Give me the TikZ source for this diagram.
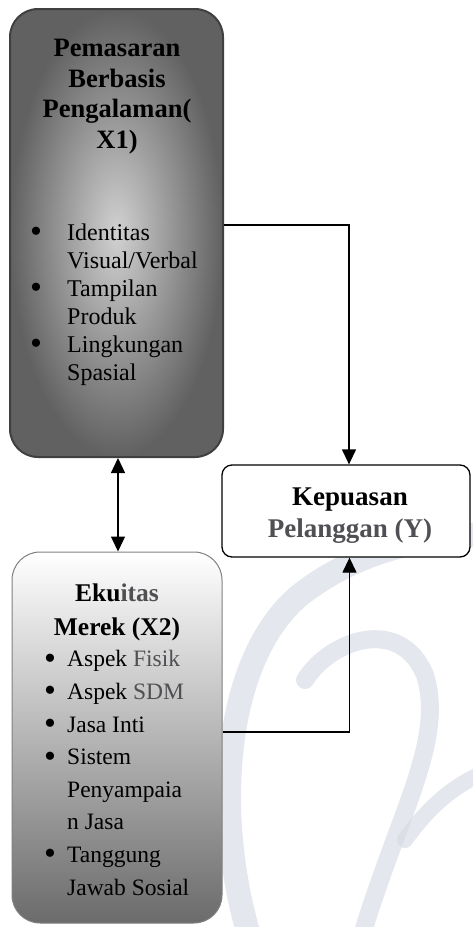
\documentclass[tikz,border=0pt]{standalone}
\usepackage{fontspec}
\setmainfont{Liberation Serif}
\usetikzlibrary{arrows.meta,shadings}
\definecolor{wm}{RGB}{212,215,226}
\definecolor{fadetext}{RGB}{80,80,84}
\newcommand{\bigbul}{\raisebox{-2.5pt}{\fontsize{34}{34}\selectfont\textbullet}}
\begin{document}
\begin{tikzpicture}[x=1pt,y=-1pt,
  arr/.style={line width=1.3pt,-{Triangle[length=15pt,width=14pt]}},
  darr/.style={line width=1.3pt,{Triangle[length=15pt,width=14pt]}-{Triangle[length=15pt,width=14pt]}},
  wmark/.style={wm,line cap=round,opacity=0.6},
  txt/.style={inner sep=0pt},
  titleA/.style={txt,font=\fontsize{26.5}{30.5}\selectfont\bfseries,align=center,anchor=base},
  listA/.style={txt,font=\fontsize{24}{28}\selectfont,align=left,anchor=base west},
  titleB/.style={txt,font=\fontsize{25.5}{34}\selectfont\bfseries,align=center,anchor=base},
  listB/.style={txt,font=\fontsize{23.5}{32.6}\selectfont,align=left,anchor=base west},
  titleY/.style={txt,font=\fontsize{27}{32}\selectfont\bfseries,align=center,anchor=base}]
\useasboundingbox (0,0) rectangle (472,927);
% watermark
\draw[wmark,line width=24pt] (252,945) .. controls (212,820) and (222,660) .. (300,595) .. controls (360,548) and (430,536) .. (490,534);
\draw[wmark,line width=18pt] (305,680) .. controls (330,640) and (400,615) .. (425,675) .. controls (445,740) and (400,810) .. (362,935);
\draw[wmark,line width=16pt] (405,840) .. controls (430,805) and (455,785) .. (485,772);
% boxes
\node[draw=black!75,line width=2pt,inner color=black!18,outer color=black!62,rounded corners=28pt,minimum width=213pt,minimum height=448pt] (x1box) at (116.5,233) {};
\node[draw=black!50,line width=1pt,top color=white,middle color=white!90!black,bottom color=black!58,rounded corners=28pt,minimum width=210pt,minimum height=371pt] (x2box) at (117,737.5) {};
\node[draw=black,line width=1.3pt,fill=white,rounded corners=10pt,minimum width=248pt,minimum height=92pt] (ybox) at (346,511) {};
% texts (anchor = baseline of the last line)
\node[titleA] (x1title) at (117,148) {Pemasaran\\Berbasis\\Pengalaman(\\X1)};
\node[listA] (x1list) at (30,380) {\makebox[37pt][l]{\bigbul}Identitas\\\hspace*{37pt}Visual/Verbal\\\makebox[37pt][l]{\bigbul}Tampilan\\\hspace*{37pt}Produk\\\makebox[37pt][l]{\bigbul}Lingkungan\\\hspace*{37pt}Spasial};
\node[titleB] (x2title) at (117,635) {Eku\textcolor{fadetext}{itas}\\Merek (X2)};
\node[listB] (x2list) at (44,895) {\makebox[23pt][l]{\bigbul}Aspek \textcolor{fadetext}{Fisik}\\\makebox[23pt][l]{\bigbul}Aspek \textcolor{fadetext}{SDM}\\\makebox[23pt][l]{\bigbul}Jasa Inti\\\makebox[23pt][l]{\bigbul}Sistem\\\hspace*{23pt}Penyampaia\\\hspace*{23pt}n Jasa\\\makebox[23pt][l]{\bigbul}Tanggung\\\hspace*{23pt}Jawab Sosial};
\node[titleY] (ytitle) at (350,537) {Kepuasan\\\textcolor{fadetext}{Pelanggan (Y)}};
% connectors
\draw[arr] ([yshift=8pt]x1box.east) -| ([xshift=3pt]ybox.north);
\draw[arr] ([yshift=5.5pt]x2box.east) -| ([xshift=3.5pt]ybox.south);
\draw[darr] ([xshift=1.5pt]x1box.south) -- ([xshift=1pt]x2box.north);
\end{tikzpicture}
\end{document}
